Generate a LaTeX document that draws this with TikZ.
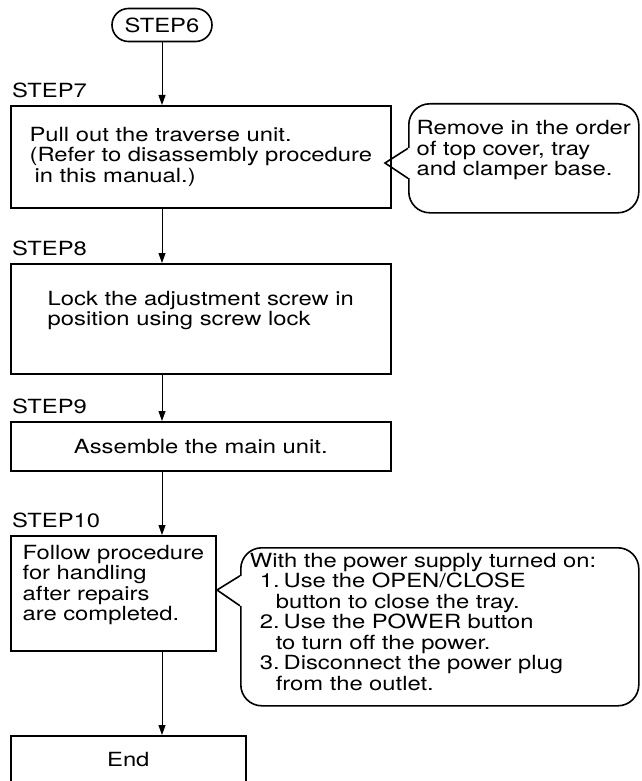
\documentclass[tikz,border=0pt]{standalone}
\usepackage{fontspec}
\setmainfont{TeX Gyre Heros}[FakeStretch=1.22]
\usetikzlibrary{positioning}
\usetikzlibrary{calc}
\usetikzlibrary{arrows.meta}
\usetikzlibrary{shapes.misc}

\begin{document}
\begin{tikzpicture}[x=1pt, y=-1pt, >={Triangle[length=10pt, width=7pt]},
    every node/.style={font=\fontsize{19.5}{20.5}\selectfont},
    stepbox/.style={draw, line width=1.6pt, align=left, anchor=north west, inner sep=0pt},
    terminal/.style={draw, rounded rectangle, line width=1.6pt, minimum width=100pt, minimum height=33pt, inner sep=0pt},
    lbl/.style={inner sep=1pt},
    note/.style={draw, line width=1.6pt, rounded corners=21pt, align=left, anchor=north west, inner sep=0pt},
    flow/.style={->, line width=1pt}]

    \useasboundingbox (0,0) rectangle (641,781);

    % main column
    \node[terminal] (s6) at (162,25) {STEP6};
    \node[stepbox, minimum width=380pt, minimum height=102pt] (s7) at (10,105)
        {Pull out the traverse unit.\\(Refer to disassembly procedure\\\hspace*{5pt}in this manual.)};
    \node[stepbox, minimum width=380pt, minimum height=110pt] (s8) at (10,263)
        {Lock the adjustment screw in\\position using screw lock\\~};
    \node[stepbox, align=center, minimum width=380pt, minimum height=49pt] (s9) at (10,421)
        {Assemble the main unit.};
    \node[stepbox, minimum width=205pt, minimum height=115pt] (s10) at (10,535)
        {Follow procedure\\for handling\\after repairs\\are completed.\\~};
    \node[stepbox, align=center, minimum width=235pt, minimum height=48pt] (fin) at (10,735) {End};

    % step labels
    \foreach \s/\t in {s7/STEP7, s8/STEP8, s9/STEP9, s10/STEP10}
        \node[lbl, above right=6pt and 1pt of \s.north west] (l\s) {\t};

    % callouts
    \node[note, minimum width=230pt, minimum height=109pt] (c7) at (408,103)
        {Remove in the order\\of top cover, tray\\and clamper base.\\~};
    \coordinate (t7) at (385,163);
    \fill[white] ($(c7.west)+(-2,-10)$) rectangle ($(c7.west)+(2,20)$);
    \draw[line width=1.6pt] ($(c7.west)+(0,-10)$) -- (t7) -- ($(c7.west)+(0,20)$);

    \node[note, inner xsep=9pt, text width=380pt, minimum height=158pt] (c10) at (240,547)
        {With the power supply turned on:\\
         \hspace*{10pt}1.\hspace{4pt}Use the OPEN/CLOSE\\
         \hspace*{26pt}button to close the tray.\\
         \hspace*{10pt}2.\hspace{4pt}Use the POWER button\\
         \hspace*{26pt}to turn off the power.\\
         \hspace*{10pt}3.\hspace{4pt}Disconnect the power plug\\
         \hspace*{26pt}from the outlet.\\[-10pt]~};
    \coordinate (t10) at (217,590);
    \fill[white] ($(c10.west)+(-2,-51)$) rectangle ($(c10.west)+(2,-21)$);
    \draw[line width=1.6pt] ($(c10.west)+(0,-51)$) -- (t10) -- ($(c10.west)+(0,-21)$);

    % flow
    \foreach \a/\b in {s6/s7, s7/s8, s8/s9, s9/s10, s10/fin}
        \draw[flow] (\a.south -| s6) -- (\b.north -| s6);
\end{tikzpicture}
\end{document}
